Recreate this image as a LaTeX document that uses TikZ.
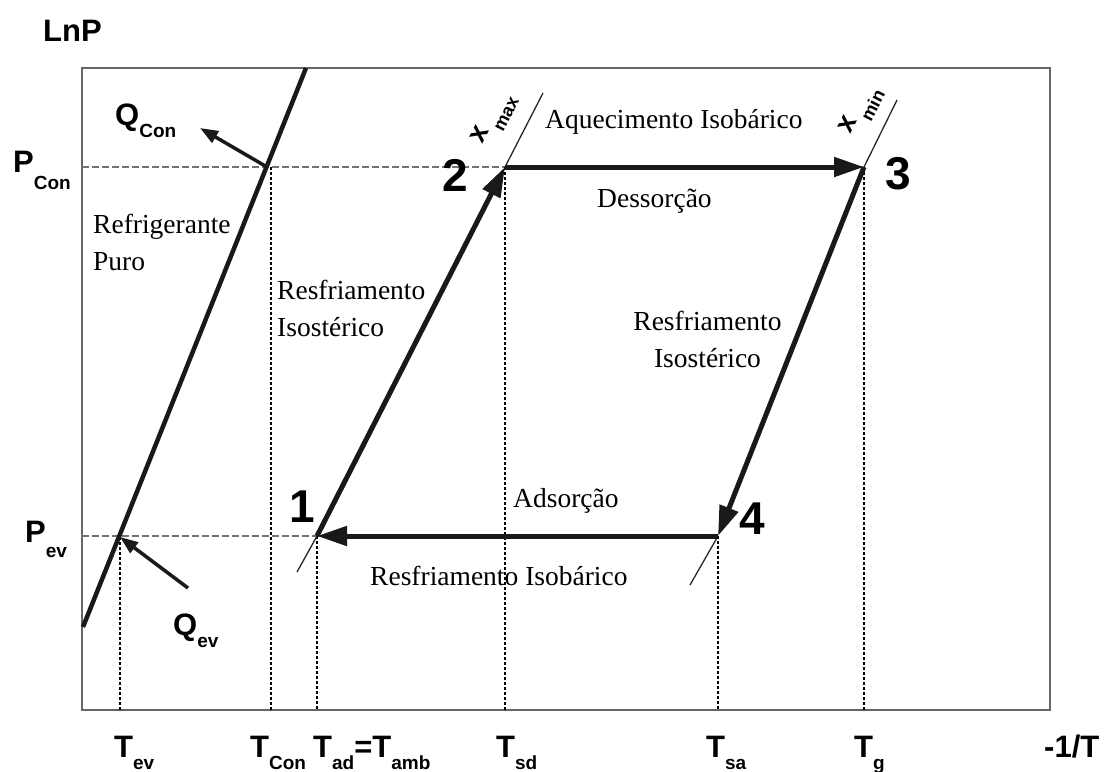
\documentclass[tikz,border=0pt]{standalone}
\usepackage{fontspec}
\setmainfont{Liberation Serif}
\setsansfont{Liberation Sans}
\usetikzlibrary{arrows.meta}
\newcommand\symsub[3]{\textbf{#1}\raisebox{-#3pt}{\fontsize{19}{19}\selectfont\bfseries #2}}
\begin{document}
\begin{tikzpicture}[x=1pt,y=-1pt,
  frame/.style={draw=black!60, line width=2.5pt},
  refline/.style={draw=black!90, line width=4.5pt},
  cyc/.style={draw=black!90, line width=5pt, -{Triangle[length=30pt,width=19pt]}},
  iso/.style={draw=black!85, line width=1.3pt},
  hdash/.style={draw=black!55, line width=2pt, dash pattern=on 7pt off 3pt},
  vdot/.style={draw=black, line width=1.3pt, dash pattern=on 3pt off 2pt},
  qarrow/.style={draw=black!90, line width=3.5pt, -{Triangle[length=18pt,width=13pt]}},
  txt/.style={inner sep=0pt, font=\fontsize{27.5}{37}\selectfont},
  num/.style={inner sep=0pt, font=\sffamily\bfseries\fontsize{46}{46}\selectfont},
  ax/.style={inner sep=0pt, anchor=base west, font=\sffamily\bfseries\fontsize{31}{31}\selectfont},
  xl/.style={inner sep=0pt, rotate=63, anchor=base west, font=\sffamily\bfseries\fontsize{28}{28}\selectfont}
]
\useasboundingbox (0,0) rectangle (1105,771);
% frame
\draw[frame] (82,68) rectangle (1050,710);
% key points
\coordinate (p1) at (317,536);
\coordinate (p2) at (505,167);
\coordinate (p3) at (864,167);
\coordinate (p4) at (718,536);
\coordinate (pc) at (267,167);
\coordinate (pe) at (120,537);
\coordinate (tc) at (271,167);
\coordinate (ylc) at (82,167);
\coordinate (yle) at (82,536);
\coordinate (bev) at (120,710);
\coordinate (bcon) at (271,710);
\coordinate (bad) at (317,710);
\coordinate (bsd) at (505,710);
\coordinate (bsa) at (718,710);
\coordinate (bg) at (864,710);
\coordinate (r0) at (83,627);
\coordinate (r1) at (306,68);
\coordinate (xmaxtop) at (543,93);
\coordinate (xmaxbot) at (297,572);
\coordinate (xmintop) at (897,100);
\coordinate (xminbot) at (690,585);
\coordinate (qc) at (200,128);
\coordinate (qe) at (188,588);
% guide lines
\draw[hdash] (ylc) -- (p2);
\draw[hdash] (yle) -- (p1);
\draw[vdot] (pe) -- (bev);
\draw[vdot] (tc) -- (bcon);
\draw[vdot] (p1) -- (bad);
\draw[vdot] (p2) -- (bsd);
\draw[vdot] (p4) -- (bsa);
\draw[vdot] (p3) -- (bg);
% isosteres
\draw[iso] (p2) -- (xmaxtop);
\draw[iso] (xmaxbot) -- (p1);
\draw[iso] (p3) -- (xmintop);
\draw[iso] (xminbot) -- (p4);
% pure refrigerant
\draw[refline] (r0) -- (r1);
% cycle
\draw[cyc] (p1) -- (p2);
\draw[cyc] (p2) -- (p3);
\draw[cyc] (p3) -- (p4);
\draw[cyc] (p4) -- (p1);
% heat arrows
\draw[qarrow] (pc) -- (qc);
\draw[qarrow] (qe) -- (pe);
% numbers
\node[num] (n1) at (302,507) {1};
\node[num] (n2) at (455,175) {2};
\node[num] (n3) at (898,174) {3};
\node[num] (n4) at (752,519) {4};
% axis labels
\node[ax] (lnp) at (43,41) {LnP};
\node[ax] (lpc) at (13,172) {\symsub{P}{Con}{17}};
\node[ax] (lpe) at (25,542) {\symsub{P}{ev}{15}};
\node[ax] (lqc) at (115,125) {\symsub{Q}{Con}{12}};
\node[ax] (lqe) at (173,635) {\symsub{Q}{ev}{12}};
\node[ax] (tev) at (114,757) {\symsub{T}{ev}{12}};
\node[ax] (tcon) at (250,757) {\symsub{T}{Con}{12}};
\node[ax] (tad) at (313,757) {\symsub{T}{ad}{12}\textbf{=}\symsub{T}{amb}{12}};
\node[ax] (tsd) at (496,757) {\symsub{T}{sd}{12}};
\node[ax] (tsa) at (706,757) {\symsub{T}{sa}{12}};
\node[ax] (tg) at (854,757) {\symsub{T}{g}{12}};
\node[ax] (invt) at (1044,757) {-1/T};
% isostere labels
\node[xl] (xmax) at (482,145) {x\hspace{5pt}\raisebox{-13pt}{\fontsize{18}{18}\selectfont max}};
\node[xl] (xmin) at (850,135) {x\hspace{5pt}\raisebox{-13pt}{\fontsize{18}{18}\selectfont min}};
% process texts
\node[txt, anchor=base west] (aq) at (545,128) {Aquecimento Isobárico};
\node[txt, anchor=base west] (des) at (597,207) {Dessorção};
\node[txt, anchor=base west] (ads) at (513,507) {Adsorção};
\node[txt, anchor=base west] (rib) at (370,585) {Resfriamento Isobárico};
\node[txt, anchor=base west, align=left] (rp) at (93,270) {Refrigerante\\Puro};
\node[txt, anchor=base west, align=left] (ri1) at (277,336) {Resfriamento\\Isostérico};
\node[txt, anchor=base, align=center] (ri2) at (707.5,367) {Resfriamento\\Isostérico};
\end{tikzpicture}
\end{document}
